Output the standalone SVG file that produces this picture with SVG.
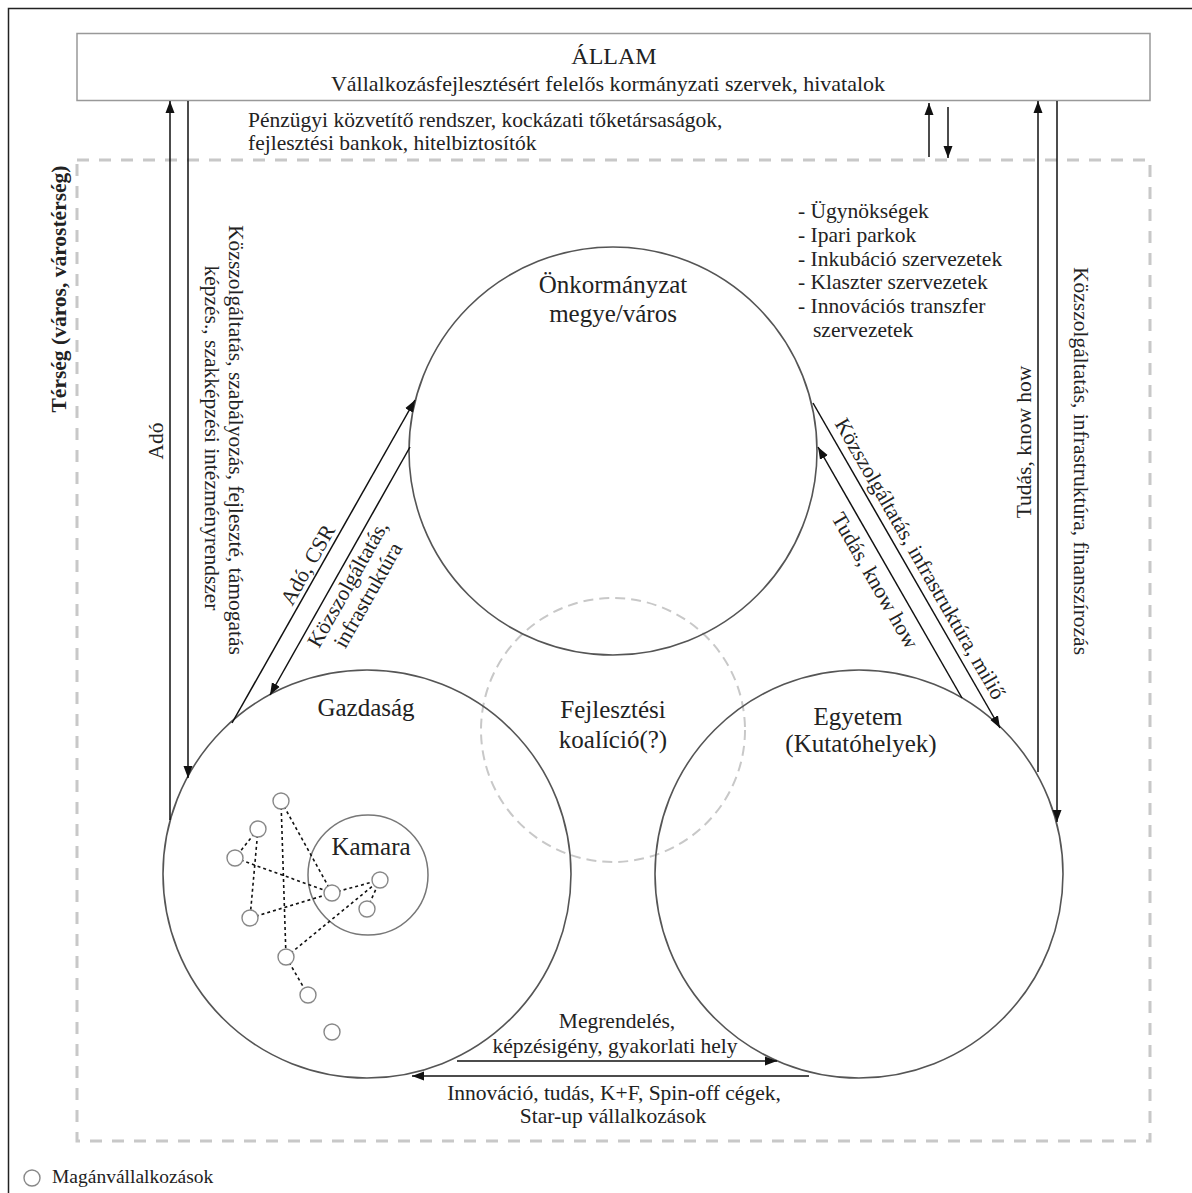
<svg xmlns="http://www.w3.org/2000/svg" width="1192" height="1193" viewBox="0 0 1192 1193">
<defs>
<marker id="ah" markerUnits="userSpaceOnUse" markerWidth="13" markerHeight="10" refX="12" refY="5" orient="auto">
<path d="M0,0.5 L12,5 L0,9.5 z" fill="#111"/>
</marker>
<style>
text{font-family:"Liberation Serif","Times New Roman",serif;fill:#222}
.big{font-size:25px}
.lbl{font-size:21.5px}
.arr{stroke:#111;stroke-width:1.5;fill:none;marker-end:url(#ah)}
.main{fill:none;stroke:#555;stroke-width:1.6}
.firm{fill:#fff;stroke:#888;stroke-width:1.4}
.dot{stroke:#111;stroke-width:1.6;stroke-dasharray:3 3;fill:none}
</style>
</defs>
<rect x="0" y="0" width="1192" height="1193" fill="#fff"/>
<rect x="8.5" y="8.5" width="1200" height="1200" fill="none" stroke="#222" stroke-width="1.5"/>

<g id="terseg">
<rect x="77" y="160" width="1073" height="981" fill="none" stroke="#c8c8c8" stroke-width="3" stroke-dasharray="12 10"/>
<text transform="translate(66,289) rotate(-90)" text-anchor="middle" style="font-size:21.5px;font-weight:bold">Térség (város, várostérség)</text>
</g>

<g id="allam">
<rect x="77" y="33.5" width="1073" height="67" fill="#fff" stroke="#999" stroke-width="1.5"/>
<text x="614" y="64" text-anchor="middle" style="font-size:24px">ÁLLAM</text>
<text x="608" y="91" text-anchor="middle" style="font-size:22px">Vállalkozásfejlesztésért felelős kormányzati szervek, hivatalok</text>
</g>

<g id="penzugyi">
<text x="248" y="127" class="lbl">Pénzügyi közvetítő rendszer, kockázati tőketársaságok,</text>
<text x="248" y="150" class="lbl">fejlesztési bankok, hitelbiztosítók</text>
</g>

<g id="lista">
<text x="798" y="218" class="lbl">- Ügynökségek</text>
<text x="798" y="242" class="lbl">- Ipari parkok</text>
<text x="798" y="266" class="lbl">- Inkubáció szervezetek</text>
<text x="798" y="289" class="lbl">- Klaszter szervezetek</text>
<text x="798" y="313" class="lbl">- Innovációs transzfer</text>
<text x="813" y="337" class="lbl">szervezetek</text>
</g>

<g id="koalicio">
<circle cx="613" cy="730" r="132" fill="none" stroke="#c8c8c8" stroke-width="2" stroke-dasharray="10 6"/>
<text x="613" y="718" text-anchor="middle" class="big">Fejlesztési</text>
<text x="613" y="748" text-anchor="middle" class="big">koalíció(?)</text>
</g>

<g id="onkormanyzat">
<circle cx="613" cy="451" r="204" class="main"/>
<text x="613" y="293" text-anchor="middle" class="big">Önkormányzat</text>
<text x="613" y="322" text-anchor="middle" class="big">megye/város</text>
</g>

<g id="gazdasag">
<circle cx="367" cy="874" r="204" class="main"/>
<text x="366" y="716" text-anchor="middle" class="big">Gazdaság</text>
</g>

<g id="kamara">
<circle cx="368" cy="875" r="60" fill="none" stroke="#777" stroke-width="1.5"/>
<text x="371" y="855" text-anchor="middle" class="big">Kamara</text>
</g>

<g id="egyetem">
<circle cx="859" cy="874" r="204" class="main"/>
<text x="858" y="725" text-anchor="middle" class="big">Egyetem</text>
<text x="861" y="752" text-anchor="middle" class="big">(Kutatóhelyek)</text>
</g>

<g id="halozat">
<line x1="281" y1="801" x2="332" y2="893" class="dot"/>
<line x1="281" y1="801" x2="286" y2="957" class="dot"/>
<line x1="258" y1="829" x2="235" y2="858" class="dot"/>
<line x1="258" y1="829" x2="250" y2="918" class="dot"/>
<line x1="235" y1="858" x2="332" y2="893" class="dot"/>
<line x1="250" y1="918" x2="332" y2="893" class="dot"/>
<line x1="332" y1="893" x2="380" y2="880" class="dot"/>
<line x1="286" y1="957" x2="380" y2="880" class="dot"/>
<line x1="367" y1="909" x2="380" y2="880" class="dot"/>
<line x1="286" y1="957" x2="308" y2="995" class="dot"/>
</g>

<g id="vallalkozasok">
<circle cx="281" cy="801" r="8" class="firm"/>
<circle cx="258" cy="829" r="8" class="firm"/>
<circle cx="235" cy="858" r="8" class="firm"/>
<circle cx="332" cy="893" r="8" class="firm"/>
<circle cx="380" cy="880" r="8" class="firm"/>
<circle cx="367" cy="909" r="8" class="firm"/>
<circle cx="250" cy="918" r="8" class="firm"/>
<circle cx="286" cy="957" r="8" class="firm"/>
<circle cx="308" cy="995" r="8" class="firm"/>
<circle cx="332" cy="1032" r="8" class="firm"/>
</g>

<g id="connectors">
<line x1="170" y1="820" x2="170" y2="101" class="arr"/>
<line x1="188" y1="101" x2="188" y2="778" class="arr"/>
<line x1="929" y1="157" x2="929" y2="103" class="arr"/>
<line x1="948" y1="107" x2="948" y2="158" class="arr"/>
<line x1="1038" y1="772" x2="1038" y2="101" class="arr"/>
<line x1="1057" y1="101" x2="1057" y2="822" class="arr"/>
<line x1="232" y1="723" x2="415" y2="400" class="arr"/>
<line x1="410" y1="447" x2="270" y2="695" class="arr"/>
<line x1="813" y1="403" x2="1000" y2="728" class="arr"/>
<line x1="962" y1="698" x2="818" y2="447" class="arr"/>
<line x1="457" y1="1061" x2="777" y2="1061" class="arr"/>
<line x1="809" y1="1076" x2="412" y2="1076" class="arr"/>
</g>

<g id="labels">
<text transform="translate(163,441) rotate(-90)" text-anchor="middle" class="lbl">Adó</text>
<text transform="translate(229,440) rotate(90)" text-anchor="middle" class="lbl">Közszolgáltatás, szabályozás, fejleszté, támogatás</text>
<text transform="translate(205,438) rotate(90)" text-anchor="middle" class="lbl">képzés., szakképzési intézményrendszer</text>
<text transform="translate(1031,442) rotate(-90)" text-anchor="middle" class="lbl">Tudás, know how</text>
<text transform="translate(1074,461) rotate(90)" text-anchor="middle" class="lbl">Közszolgáltatás, infrastruktúra, finanszírozás</text>
<text transform="translate(318.3,570.7) rotate(-60.46)" text-anchor="middle" class="lbl" y="-5">Adó, CSR</text>
<g transform="translate(336.6,577.5) rotate(-60.46)">
<text y="20" text-anchor="middle" class="lbl">Közszolgáltatás,</text>
<text y="43" text-anchor="middle" class="lbl">infrastruktúra</text>
</g>
<text transform="translate(907,566.3) rotate(60.09)" y="-8" text-anchor="middle" class="lbl">Közszolgáltatás, infrastruktúra, miliő</text>
<text transform="translate(889.7,572) rotate(60.15)" y="24" text-anchor="middle" class="lbl">Tudás, know how</text>
<text x="617" y="1028" text-anchor="middle" class="lbl">Megrendelés,</text>
<text x="615" y="1053" text-anchor="middle" class="lbl">képzésigény, gyakorlati hely</text>
<text x="614" y="1100" text-anchor="middle" class="lbl">Innováció, tudás, K+F, Spin-off cégek,</text>
<text x="613" y="1123" text-anchor="middle" class="lbl">Star-up vállalkozások</text>
</g>

<g id="legend">
<circle cx="32" cy="1178" r="8" fill="none" stroke="#888" stroke-width="1.4"/>
<text x="52" y="1183" style="font-size:19.5px">Magánvállalkozások</text>
</g>
</svg>
